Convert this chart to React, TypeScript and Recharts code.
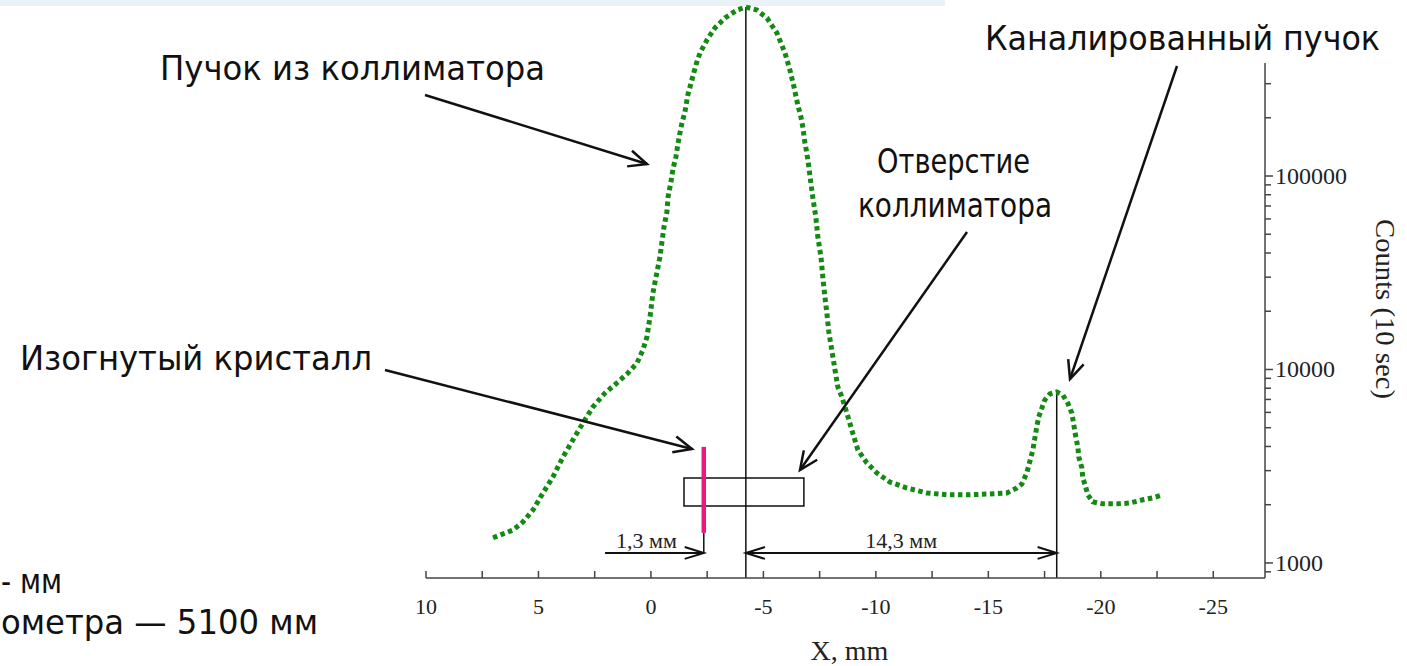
import React from 'react';
import { ComposedChart, Line, XAxis, YAxis, ReferenceLine, ReferenceArea } from 'recharts';

// scan position, mm
const X_MM = [
  7.02, 6.13, 5.69, 5.24, 4.8, 4.36, 3.91, 3.47, 3.02, 2.58, 2.04, 1.51, 1.02, 0.62, 0.36, 0.18, 0.04,
  -0.09, -0.27, -0.4, -0.49, -0.58, -0.71, -0.76, -0.89, -0.98, -1.11, -1.2, -1.29, -1.38, -1.51, -1.64,
  -1.82, -2.0, -2.18, -2.49, -2.84, -3.29, -3.82, -4.22, -4.71, -5.16, -5.6, -5.96, -6.18, -6.36, -6.53,
  -6.67, -6.76, -6.84, -6.93, -7.02, -7.11, -7.2, -7.33, -7.42, -7.56, -7.64, -7.73, -7.82, -7.91, -8.04,
  -8.18, -8.31, -8.49, -8.71, -8.93, -9.2, -9.6, -10.04, -10.62, -11.38, -12.27, -13.16, -14.04, -14.93,
  -15.82, -16.27, -16.49, -16.71, -16.84, -16.98, -17.07, -17.16, -17.24, -17.38, -17.51, -17.73, -18.04,
  -18.31, -18.53, -18.71, -18.8, -18.89, -18.98, -19.02, -19.16, -19.2, -19.33, -19.42, -19.64, -20.09,
  -20.71, -21.29, -21.87, -22.31, -22.76,
];

// counts per 10 s
const COUNTS = [
  1350, 1480, 1630, 1880, 2300, 2780, 3530, 4320, 5290, 6400, 7560, 8520, 9590, 10800, 12600, 14700, 18700,
  24900, 31900, 38100, 45600, 54500, 65200, 77900, 93100, 108700, 125400, 146400, 166900, 187900, 214100, 262200,
  313500, 374600, 432200, 504500, 582000, 655300, 720900, 747000, 720900, 655300, 548300, 432200, 353000, 288400, 232800,
  201800, 177000, 149900, 131500, 111300, 92000, 77000, 61400, 48400, 38100, 30100, 24000, 19600, 15600, 12600,
  10000, 8120, 7210, 5960, 4870, 3840, 3290, 2920, 2620, 2440, 2300, 2250, 2250, 2270,
  2300, 2440, 2560, 2920, 3330, 3840, 4430, 5100, 5680, 6320, 6960, 7470, 7650,
  7380, 6710, 5960, 5170, 4480, 3980, 3530, 3100, 2750, 2470, 2250, 2070, 2020,
  2020, 2040, 2120, 2170, 2250,
];

const X_TICKS = [10, 7.5, 5, 2.5, 0, -2.5, -5, -7.5, -10, -12.5, -15, -17.5, -20, -22.5, -25];
const Y_TICKS = [
  900, 1000, 2000, 3000, 4000, 5000, 6000, 7000, 8000, 9000,
  10000, 20000, 30000, 40000, 50000, 60000, 70000, 80000, 90000,
  100000, 200000, 300000,
];
const Y_LABELED = [1000, 10000, 100000];

const X_DOMAIN = [-27.3, 10];
const Y_DOMAIN = [836, 812300];
const Y_AXIS_TOP = 383700;

// marks drawn on the plot (mm / counts)
const BEAM_PEAK = { x: -4.22, y: 747000 };
const CHANNEL_PEAK = { x: -18.04, y: 7650 };
const CRYSTAL = { x: -2.35, y1: 1430, y2: 3980 };
const COLLIMATOR_HOLE = { x1: -1.47, x2: -6.8, y1: 1970, y2: 2750 };
const DIM_Y = 1126;
const DIM_START_X = 2.04;

const data = X_MM.map((x, i) => ({ x, counts: COUNTS[i] }));

const SERIF = '"Liberation Serif", "Times New Roman", serif';
const SANS = '"DejaVu Sans", Tahoma, sans-serif';

const XTick = (props: any) => {
  const { x, y, payload } = props;
  const v = payload.value;
  const major = Number.isInteger(v) && v % 5 === 0;
  return (
    <g>
      <line x1={x} x2={x} y1={y} y2={y - 7} stroke="#444" strokeWidth={1.5} />
      {major && (
        <text x={x} y={y + 36} textAnchor="middle" fontFamily={SERIF} fontSize={22} fill="#222">
          {String(v)}
        </text>
      )}
    </g>
  );
};

const YTick = (props: any) => {
  const { x, y, payload } = props;
  const major = Y_LABELED.includes(payload.value);
  return (
    <g>
      <line x1={x} x2={x + (major ? 8 : 6)} y1={y} y2={y} stroke="#444" strokeWidth={1.5} />
      {major && (
        <text x={x + 10} y={y + 8} fontFamily={SERIF} fontSize={24} fill="#222">
          {String(payload.value)}
        </text>
      )}
    </g>
  );
};

const head = (tx: number, ty: number, fx: number, fy: number, len: number, spread: number) => {
  const a = Math.atan2(fy - ty, fx - tx);
  const p1 = [tx + len * Math.cos(a + spread), ty + len * Math.sin(a + spread)];
  const p2 = [tx + len * Math.cos(a - spread), ty + len * Math.sin(a - spread)];
  return `M${p1[0]},${p1[1]} L${tx},${ty} L${p2[0]},${p2[1]}`;
};

const dimShape = (label: string, both: boolean, labelDx: number) => (p: any) => {
  const { x1, y1, x2, y2 } = p;
  return (
    <g>
      <line x1={x1} y1={y1} x2={x2} y2={y2} stroke="#111" strokeWidth={2} />
      <path d={head(x2, y2, x1, y1, 20, 0.3)} fill="none" stroke="#111" strokeWidth={2} />
      {both && <path d={head(x1, y1, x2, y2, 20, 0.3)} fill="none" stroke="#111" strokeWidth={2} />}
      <text x={(x1 + x2) / 2 + labelDx} y={y1 - 5} textAnchor="middle" fontFamily={SERIF} fontSize={22} fill="#222">
        {label}
      </text>
    </g>
  );
};

const CALLOUTS = [
  { text: 'Пучок из коллиматора', x: 160, y: 80, w: 385, from: [425, 95], to: [647, 164] },
  { text: 'Каналированный пучок', x: 985, y: 50, w: 395, from: [1177, 66], to: [1070, 379] },
  { text: 'Изогнутый кристалл', x: 20, y: 370, w: 352, from: [385, 370], to: [692, 449] },
  { text: 'Отверстие', x: 877, y: 173, w: 153, from: null, to: null },
  { text: 'коллиматора', x: 858, y: 217, w: 194, from: [967, 232], to: [800, 470] },
];

const Overlay = () => (
  <svg width={1407} height={666} style={{ position: 'absolute', left: 0, top: 0, pointerEvents: 'none' }}>
    {CALLOUTS.map((c, i) => (
      <g key={i}>
        <text x={c.x} y={c.y} fontFamily={SANS} fontSize={33} fill="#111" textLength={c.w} lengthAdjust="spacingAndGlyphs">
          {c.text}
        </text>
        {c.from && c.to && (
          <g>
            <line x1={c.from[0]} y1={c.from[1]} x2={c.to[0]} y2={c.to[1]} stroke="#111" strokeWidth={2.5} />
            <path d={head(c.to[0], c.to[1], c.from[0], c.from[1], 20, 0.42)} fill="none" stroke="#111" strokeWidth={2.5} />
          </g>
        )}
      </g>
    ))}
    <text x={1} y={593} fontFamily={SANS} fontSize={33} fill="#111" textLength={61} lengthAdjust="spacingAndGlyphs">- мм</text>
    <text x={1} y={634} fontFamily={SANS} fontSize={33} fill="#111" textLength={317} lengthAdjust="spacingAndGlyphs">
      ометра — 5100 мм
    </text>
  </svg>
);

export default function App() {
  return (
    <div style={{ position: 'absolute', left: 0, top: 0, width: 1407, height: 666, background: '#fff' }}>
      <svg width={1407} height={666} style={{ position: 'absolute', left: 0, top: 0 }}>
        <rect x={0} y={0} width={945} height={6} fill="#e9f3f7" />
      </svg>
      <div style={{ position: 'absolute', left: 0, top: 0 }}>
        <ComposedChart width={1407} height={666} data={data} margin={{ top: 0, right: 0, bottom: 0, left: 426 }}>
          <XAxis
            type="number"
            dataKey="x"
            domain={X_DOMAIN}
            reversed
            allowDataOverflow
            ticks={X_TICKS}
            interval={0}
            height={88}
            tickSize={0}
            tickMargin={0}
            tickLine={false}
            tick={XTick}
            axisLine={{ stroke: '#444', strokeWidth: 1.5 }}
            label={{
              content: (p: any) => {
                const vb = p.viewBox || { x: 426, y: 578, width: 839, height: 88 };
                return (
                  <text x={vb.x + vb.width / 2 + 4} y={vb.y + vb.height - 6} textAnchor="middle" fontFamily={SERIF} fontSize={28} fill="#222">
                    X, mm
                  </text>
                );
              },
            }}
          />
          <YAxis
            orientation="right"
            type="number"
            scale="log"
            domain={Y_DOMAIN}
            allowDataOverflow
            ticks={Y_TICKS}
            interval={0}
            width={142}
            tickSize={0}
            tickMargin={0}
            tickLine={false}
            tick={YTick}
            axisLine={false}
            label={{
              content: (p: any) => {
                const vb = p.viewBox || { x: 1265, y: 0, width: 142, height: 578 };
                const cx = vb.x + vb.width - 22;
                const cy = vb.y + vb.height / 2 + 20;
                return (
                  <text
                    transform={`translate(${cx},${cy}) rotate(90)`}
                    textAnchor="middle"
                    dominantBaseline="central"
                    fontFamily={SERIF}
                    fontSize={27}
                    fill="#222"
                    textLength={180}
                    lengthAdjust="spacingAndGlyphs"
                  >
                    Counts (10 sec)
                  </text>
                );
              },
            }}
          />
          <ReferenceLine
            segment={[{ x: X_DOMAIN[0], y: Y_DOMAIN[0] }, { x: X_DOMAIN[0], y: Y_AXIS_TOP }]}
            stroke="#444"
            strokeWidth={1.5}
            ifOverflow="visible"
          />
          <ReferenceArea
            x1={COLLIMATOR_HOLE.x1}
            x2={COLLIMATOR_HOLE.x2}
            y1={COLLIMATOR_HOLE.y1}
            y2={COLLIMATOR_HOLE.y2}
            fill="none"
            fillOpacity={0}
            stroke="#111"
            strokeWidth={1.5}
            ifOverflow="visible"
          />
          <ReferenceLine
            segment={[{ x: BEAM_PEAK.x, y: Y_DOMAIN[0] }, { x: BEAM_PEAK.x, y: BEAM_PEAK.y }]}
            stroke="#111"
            strokeWidth={1.5}
            ifOverflow="visible"
          />
          <ReferenceLine
            segment={[{ x: CHANNEL_PEAK.x, y: Y_DOMAIN[0] }, { x: CHANNEL_PEAK.x, y: CHANNEL_PEAK.y }]}
            stroke="#111"
            strokeWidth={1.5}
            ifOverflow="visible"
          />
          <ReferenceLine
            segment={[{ x: CRYSTAL.x, y: DIM_Y }, { x: CRYSTAL.x, y: CRYSTAL.y1 }]}
            stroke="#111"
            strokeWidth={1.5}
            ifOverflow="visible"
          />
          <Line
            dataKey="counts"
            type="linear"
            stroke="#148a14"
            strokeWidth={5}
            strokeDasharray="4.5 3.5"
            dot={false}
            activeDot={false}
            isAnimationActive={false}
          />
          <ReferenceLine
            segment={[{ x: CRYSTAL.x, y: CRYSTAL.y1 }, { x: CRYSTAL.x, y: CRYSTAL.y2 }]}
            stroke="#e8197f"
            strokeWidth={4.5}
            ifOverflow="visible"
          />
          <ReferenceLine
            segment={[{ x: DIM_START_X, y: DIM_Y }, { x: CRYSTAL.x, y: DIM_Y }]}
            ifOverflow="visible"
            shape={dimShape('1,3 мм', false, -8)}
          />
          <ReferenceLine
            segment={[{ x: BEAM_PEAK.x, y: DIM_Y }, { x: CHANNEL_PEAK.x, y: DIM_Y }]}
            ifOverflow="visible"
            shape={dimShape('14,3 мм', true, 0)}
          />
        </ComposedChart>
      </div>
      <Overlay />
    </div>
  );
}
